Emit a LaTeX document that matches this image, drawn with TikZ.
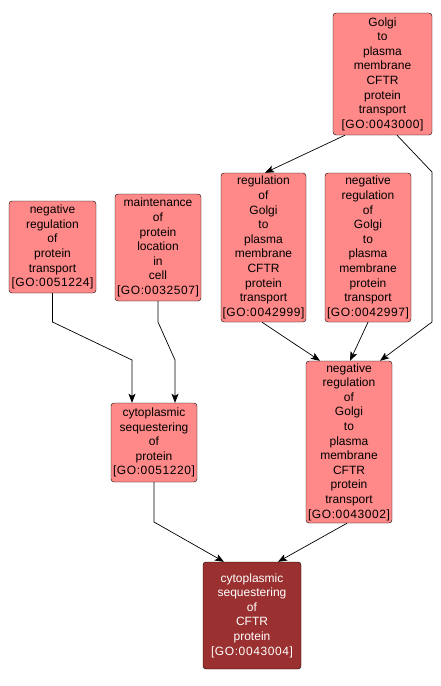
\documentclass[tikz,border=0pt]{standalone}
\usepackage{fontspec}
\setmainfont{Liberation Sans}
\newfontfamily\goid[LetterSpace=5]{Liberation Sans}
\usetikzlibrary{arrows.meta}
\definecolor{termfill}{RGB}{255,136,136}
\definecolor{rootfill}{RGB}{155,48,48}
\begin{document}
\begin{tikzpicture}[x=1pt, y=-1pt,
every node/.style={draw, rounded corners=3pt, fill=termfill, align=center, inner sep=0pt,
  font=\fontsize{12}{14.6}\selectfont},
edge/.style={-{Stealth[length=9pt,width=7pt,inset=2pt]}, line width=0.7pt}
]
\useasboundingbox (0,0) rectangle (441,686);
\node[minimum width=99pt, minimum height=122pt] (n43000) at (382.5,74)
  {Golgi\\to\\plasma\\membrane\\CFTR\\protein\\transport\\{\goid[GO:0043000]}};
\node[minimum width=85pt, minimum height=149pt] (n42999) at (263.5,247.5)
  {regulation\\of\\Golgi\\to\\plasma\\membrane\\CFTR\\protein\\transport\\{\goid[GO:0042999]}};
\node[minimum width=86pt, minimum height=149pt] (n42997) at (368,247.5)
  {negative\\regulation\\of\\Golgi\\to\\plasma\\membrane\\protein\\transport\\{\goid[GO:0042997]}};
\node[minimum width=87pt, minimum height=92pt] (n51224) at (52.5,247)
  {negative\\regulation\\of\\protein\\transport\\{\goid[GO:0051224]}};
\node[minimum width=86pt, minimum height=107pt] (n32507) at (158,247.5)
  {maintenance\\of\\protein\\location\\in\\cell\\{\goid[GO:0032507]}};
\node[minimum width=86pt, minimum height=79pt] (n51220) at (154,442.5)
  {cytoplasmic\\sequestering\\of\\protein\\{\goid[GO:0051220]}};
\node[minimum width=86pt, minimum height=162pt] (n43002) at (349,442)
  {negative\\regulation\\of\\Golgi\\to\\plasma\\membrane\\CFTR\\protein\\transport\\{\goid[GO:0043002]}};
\node[minimum width=98pt, minimum height=107pt, fill=rootfill, text=white] (n43004) at (252,615.5)
  {cytoplasmic\\sequestering\\of\\CFTR\\protein\\{\goid[GO:0043004]}};
% edges
\draw[edge] ([xshift=-37.5pt]n43000.south) -- ([xshift=1.5pt]n42999.north);
\draw[edge] ([xshift=14.5pt]n43000.south) -- (432,172) -- (432,322) -- ([xshift=31pt]n43002.north);
\draw[edge] ([xshift=-1.5pt]n42999.south) -- ([xshift=-29pt]n43002.north);
\draw[edge] (n42997.south) -- ([xshift=1pt]n43002.north);
\draw[edge] (n51224.south) -- (52.5,322) -- (132,360) -- ([xshift=-22pt]n51220.north);
\draw[edge] (n32507.south) -- (158,322) -- (175,360) -- ([xshift=21pt]n51220.north);
\draw[edge] (n51220.south) -- (154,522) -- ([xshift=-28pt]n43004.north);
\draw[edge] ([xshift=-2pt]n43002.south) -- ([xshift=26pt]n43004.north);
\end{tikzpicture}
\end{document}
